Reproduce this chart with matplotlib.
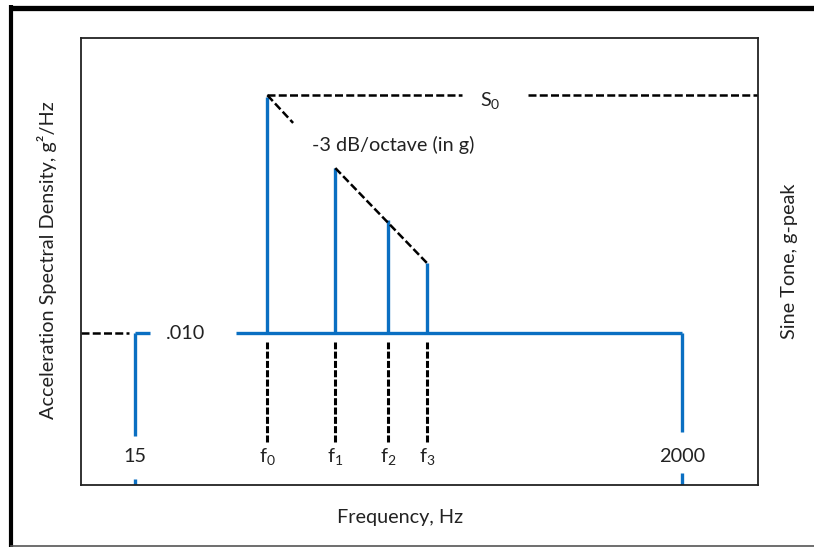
import matplotlib
matplotlib.use("Agg")
import matplotlib.pyplot as plt
from matplotlib.lines import Line2D

plt.rcParams['font.family'] = ['Lato', 'DejaVu Sans']
plt.rcParams['mathtext.fontset'] = 'custom'
plt.rcParams['mathtext.rm'] = 'Lato'
plt.rcParams['mathtext.it'] = 'Lato:italic'

# ---- data (schematic) ----
freq_names = ['15', r'f$_\mathrm{0}$', r'f$_\mathrm{1}$', r'f$_\mathrm{2}$', r'f$_\mathrm{3}$', '2000']
freqs = [15, 49, 90, 144, 204, 2000]          # Hz (log axis)
f_lo, f_hi = 9.25, 3950                        # axis limits
base_level = 0.34                              # .010 g^2/Hz level (arbitrary units)
s0_level = 0.868                               # S0 sine level
tone_freqs = [49, 90, 144, 204]
tone_levels = [0.868, 0.709, 0.593, 0.497]
base_label = '.010'
slope_label = '-3 dB/octave (in g)'

BLUE = '#0A6FC2'
TXT = '#222222'
FS = 14.3
fig = plt.figure(figsize=(8.14, 5.47), dpi=100)
ax = fig.add_axes([81/814, 1-485/547, 677/814, 447/547])
ax.set_xscale('log')
ax.set_xlim(f_lo, f_hi)
ax.set_ylim(0, 1)
ax.set_xticks([]); ax.set_yticks([])
ax.minorticks_off()
for s in ax.spines.values():
    s.set_linewidth(1.3)
    s.set_color(TXT)

lwb = 2.4
dash = (0, (3.2, 1.3))
# 15 Hz start
ax.plot([15, 15], [0.11, base_level], color=BLUE, lw=lwb, solid_capstyle='butt')
ax.plot([15, 17.2], [base_level, base_level], color=BLUE, lw=lwb, solid_capstyle='butt')
ax.plot([15, 15], [0, 0.014], color=BLUE, lw=lwb, solid_capstyle='butt')
# black dashed left
ax.plot([f_lo, 14.2], [base_level, base_level], color='black', lw=1.8, ls=dash)
# main blue baseline
ax.plot([37, freqs[-1]], [base_level, base_level], color=BLUE, lw=lwb, solid_capstyle='butt')
ax.plot([freqs[-1], freqs[-1]], [0.119, base_level], color=BLUE, lw=lwb, solid_capstyle='butt')
ax.plot([freqs[-1], freqs[-1]], [0, 0.027], color=BLUE, lw=lwb, solid_capstyle='butt')
# sine tones
for f, lv in zip(tone_freqs, tone_levels):
    ax.plot([f, f], [base_level, lv], color=BLUE, lw=lwb, solid_capstyle='butt')
    ax.plot([f, f], [0.096, 0.320], color='black', lw=2.2, ls=(0, (2.3, 0.75)))
# S0 dashed line
ax.plot([tone_freqs[0], 279], [s0_level + 0.004, s0_level + 0.004], color='black', lw=1.8, ls=dash)
ax.plot([505, f_hi], [s0_level + 0.004, s0_level + 0.004], color='black', lw=1.8, ls=dash)
ax.text(361, s0_level - 0.008, r'S$_\mathrm{0}$', fontsize=FS, ha='center', va='center', color=TXT)
# slope lines
ax.plot([tone_freqs[0], 61.7], [s0_level + 0.004, 0.81], color='black', lw=1.8, ls=dash)
ax.plot([tone_freqs[1], tone_freqs[3]], [tone_levels[1], tone_levels[3]], color='black', lw=1.8, ls=dash)
ax.text(151, 0.761, slope_label, fontsize=FS, ha='center', va='center', color=TXT)
ax.text(23.5, base_level, base_label, fontsize=FS, ha='center', va='center', color=TXT)
# frequency labels
for f, name in zip(freqs, freq_names):
    ax.text(f, 0.063, name, fontsize=FS, ha='center', va='center', color=TXT)

fig.text(400/814, 1-518/547, 'Frequency, Hz', fontsize=FS, ha='center', va='center', color=TXT)
fig.text(47/814, 1-260/547, 'Acceleration Spectral Density, g²/Hz', fontsize=FS, ha='center', va='center',
         rotation=90, color=TXT)
fig.text(790/814, 1-261/547, 'Sine Tone, g-peak', fontsize=FS, ha='center', va='center',
         rotation=90, color=TXT)

# outer frame
fig.add_artist(Line2D([9/814, 1], [1-7.5/547, 1-7.5/547], transform=fig.transFigure, color='black', lw=3.8, solid_capstyle='butt'))
fig.add_artist(Line2D([11/814, 11/814], [0, 1-5/547], transform=fig.transFigure, color='black', lw=3.0, solid_capstyle='butt'))
fig.add_artist(Line2D([11/814, 1], [0.8/547, 0.8/547], transform=fig.transFigure, color='#555555', lw=1.2))

fig.savefig('out.png', dpi=100)
